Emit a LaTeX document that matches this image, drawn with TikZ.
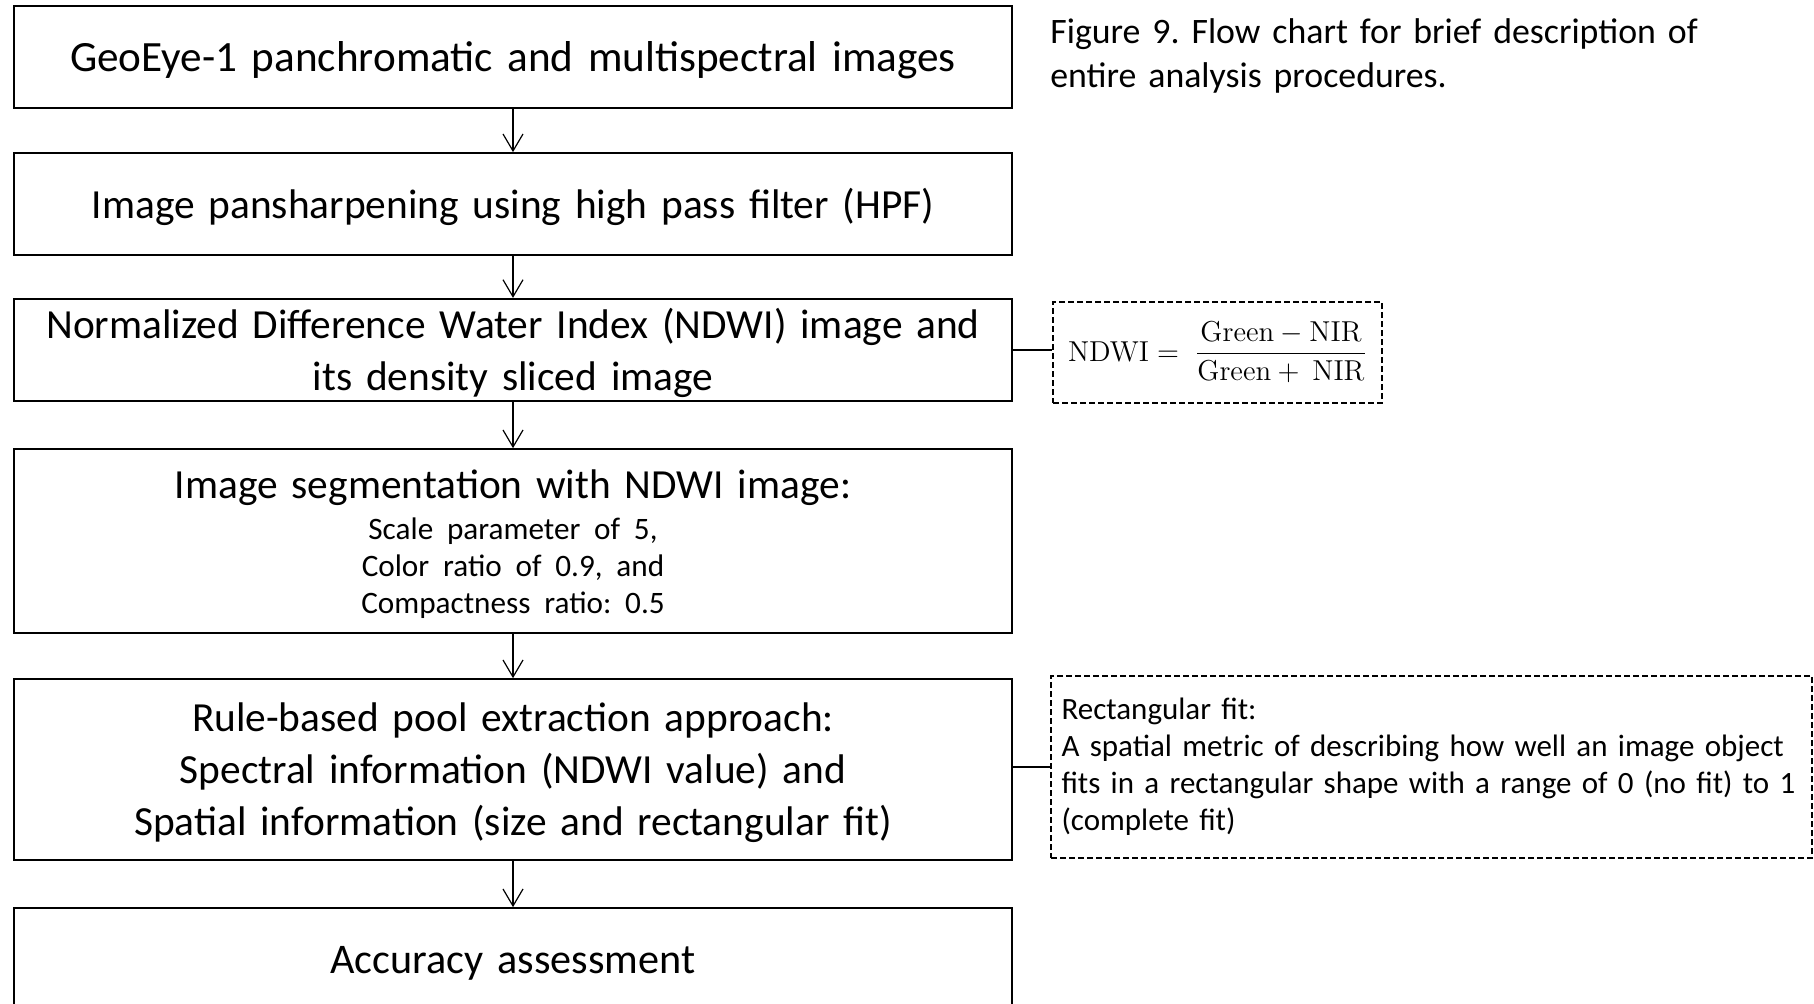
\documentclass[tikz,border=0pt]{standalone}
\usepackage[no-math]{fontspec}
\setmainfont{Carlito}
\usepackage{amsmath}
\usepackage{tikz}
\usetikzlibrary{arrows.meta,positioning}
\frenchspacing
\newcommand{\topstrut}{\rule{0pt}{0.95em}}
\newcommand{\botstrut}{\rule[-0.27em]{0pt}{0pt}\par}

\begin{document}
\begin{tikzpicture}[
    x=0.5pt, y=-0.5pt,
    stepshape/.style={rectangle, draw, line width=0.85pt, minimum width=499pt, text width=497pt, align=center, inner sep=0pt, font=\fontsize{20.7}{26}\selectfont,
        execute at begin node=\topstrut},
    stepbox/.style={stepshape, execute at end node=\botstrut},
    notebox/.style={rectangle, draw, dashed, line width=0.6pt, dash pattern=on 3pt off 1.5pt, inner sep=0pt},
    flow/.style={-{Straight Barb[length=8.5pt, width=10pt]}, line width=0.6pt},
    link/.style={line width=0.9pt}
]
\useasboundingbox (0,0) rectangle (1814,1003);

% Main steps (left column)
\node[stepbox, minimum height=51pt, font=\fontsize{21.6}{26}\selectfont] (geoeye) at (513,57) {GeoEye-1 panchromatic and multispectral images};
\node[stepbox, minimum height=51pt] (pansharp) at (513,204) {Image pansharpening using high pass filter (HPF)};
\node[stepbox, minimum height=50pt] (ndwi) at (513,350) {Normalized Difference Water Index (NDWI) image and\\its density sliced image};
\node[stepshape, minimum height=92pt] (segment) at (513,541) {Image segmentation with NDWI image:\\[2pt]\fontsize{15.6}{18.5}\selectfont Scale parameter of 5,\\Color ratio of 0.9, and\\Compactness ratio: 0.5\botstrut};
\node[stepbox, minimum height=90.5pt] (rules) at (513,769.5) {Rule-based pool extraction approach:\\Spectral information (NDWI value) and\\Spatial information (size and rectangular fit)};
\node[stepbox, minimum height=51pt, font=\fontsize{21.1}{26}\selectfont] (accuracy) at (513,959) {Accuracy assessment};

\draw[flow] (geoeye) -- (pansharp);
\draw[flow] (pansharp) -- (ndwi);
\draw[flow] (ndwi) -- (segment);
\draw[flow] (segment) -- (rules);
\draw[flow] (rules) -- (accuracy);

% Notes (right column)
\node[notebox, minimum width=164.5pt, minimum height=50.5pt, font=\fontsize{14.4}{17}\selectfont] (formula) at (1217.5,352.5) {$\mathrm{NDWI} =\; \dfrac{\mathrm{Green} - \mathrm{NIR}\rule[-1.7pt]{0pt}{0pt}}{\mathrm{Green} +\ \mathrm{NIR}\rule{0pt}{11pt}}$};
\node[notebox, minimum width=380.5pt, minimum height=91pt, text width=370pt, align=left, font=\fontsize{15.5}{18.5}\selectfont] (rectfit) at (1431.5,767) {Rectangular fit:\\A spatial metric of describing how well an image object\\fits in a rectangular shape with a range of 0 (no fit) to 1\\(complete fit)};

\draw[link] (ndwi.east) -- (ndwi.east -| formula.west);
\draw[link] (rectfit.west -| rules.east) -- (rectfit.west);

% Caption
\node[anchor=north west, inner sep=0pt, text width=400pt, align=left, font=\fontsize{17.9}{22}\selectfont] (caption) at (1050,18.5) {Figure 9. Flow chart for brief description of\\entire analysis procedures.};

\end{tikzpicture}
\end{document}
